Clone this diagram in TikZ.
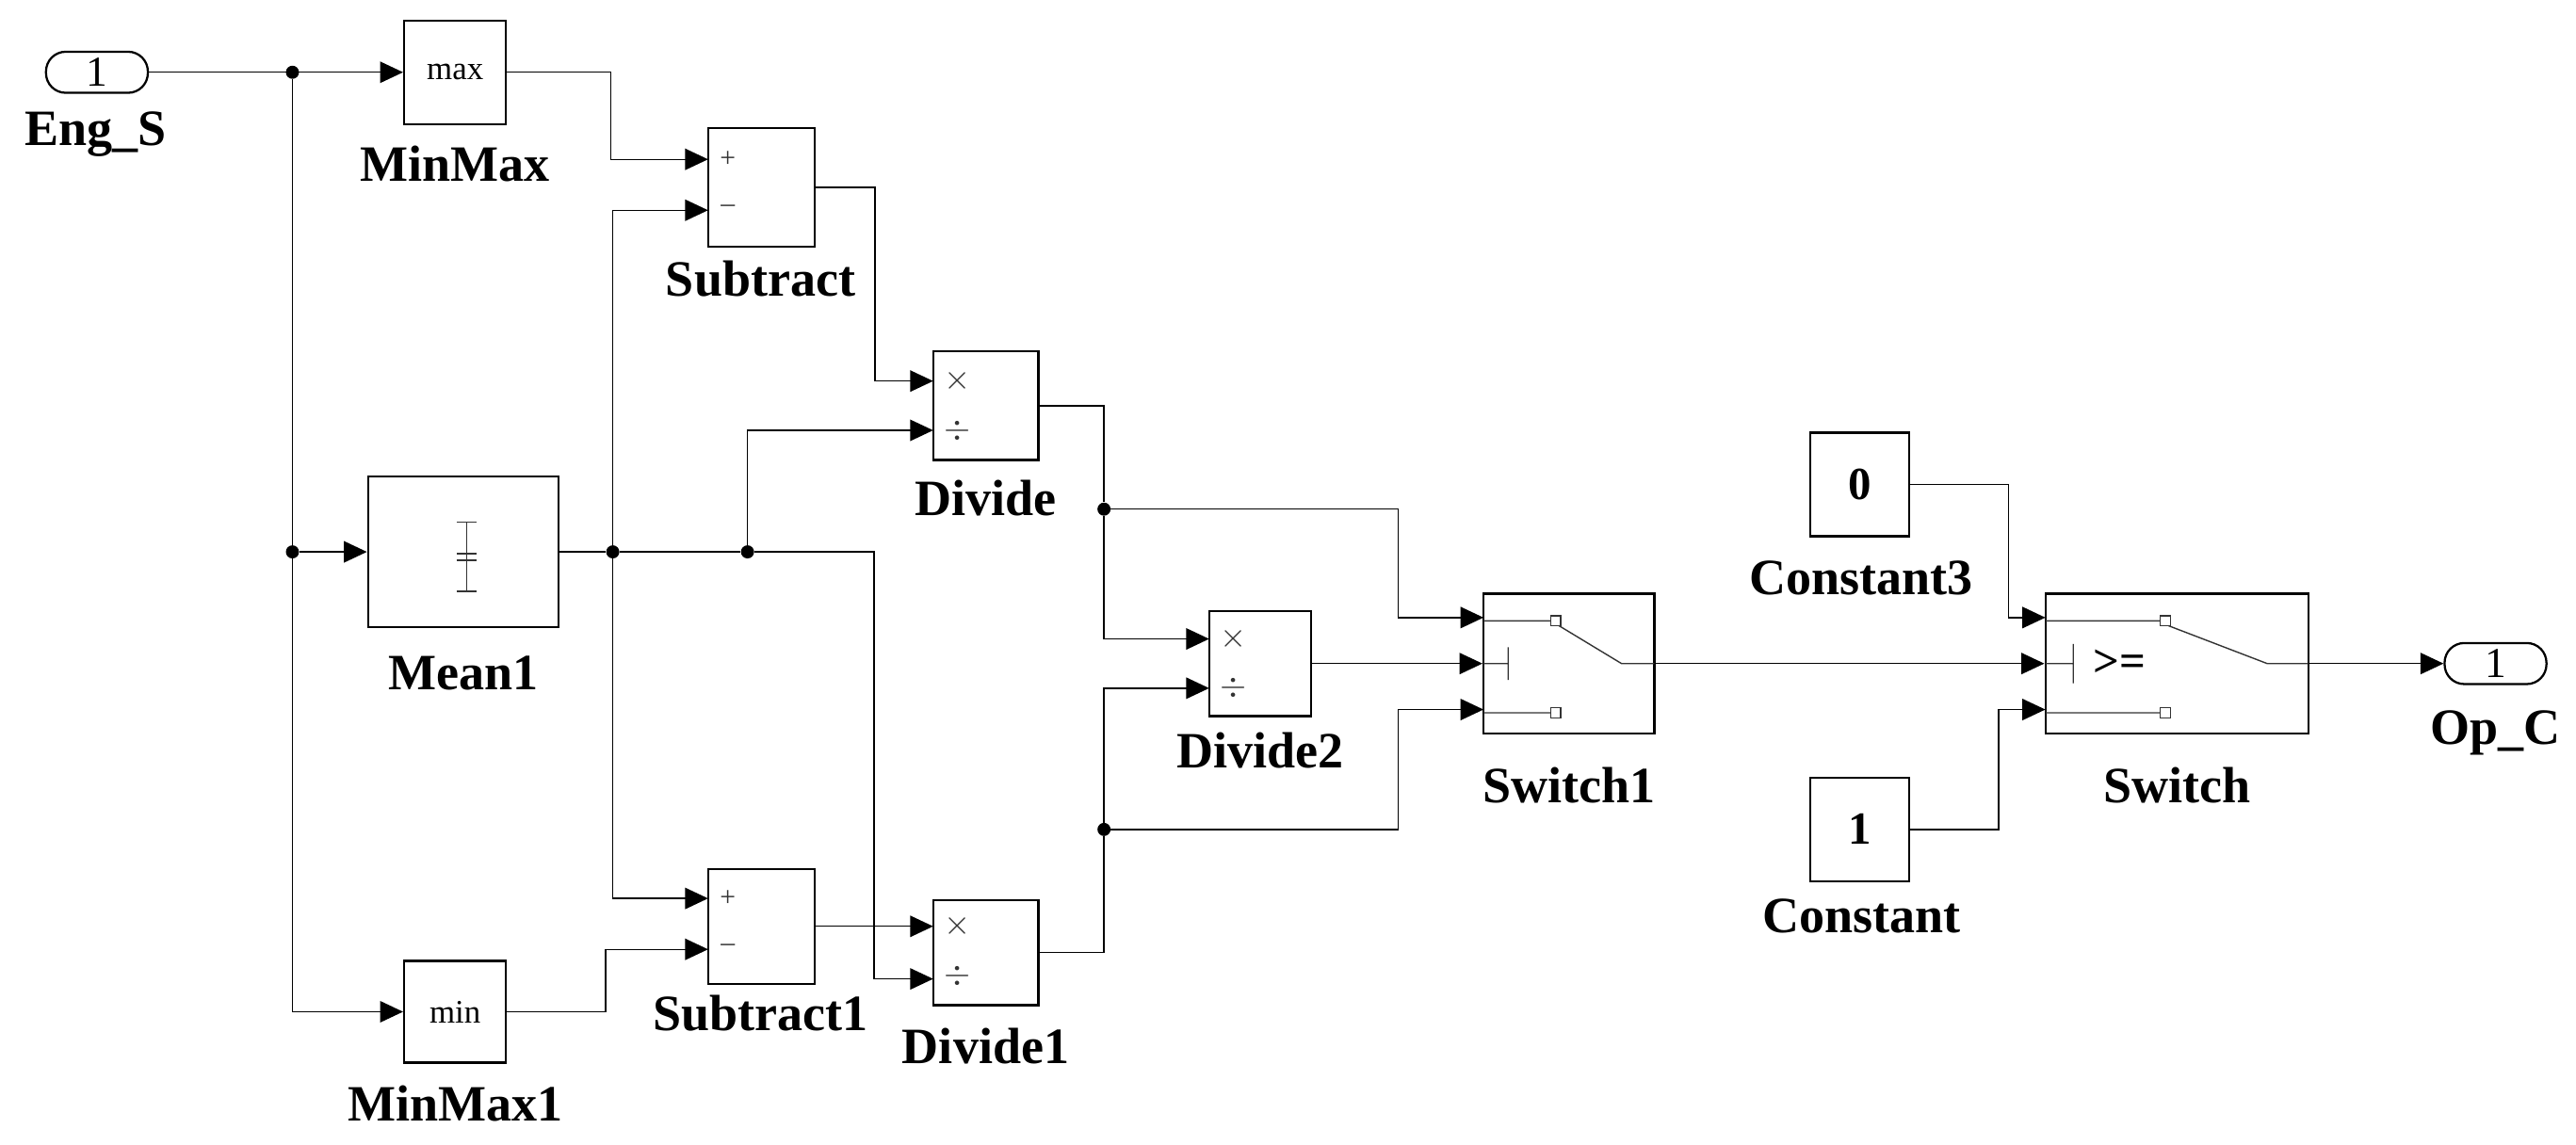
\documentclass[tikz,border=0pt]{standalone}
\usepackage{fontspec}
\setmainfont{Liberation Serif}
\usetikzlibrary{arrows.meta,calc}
\begin{document}
\begin{tikzpicture}[x=1pt,y=-1pt,
  blk/.style={draw,line width=1.3pt,inner sep=0pt,fill=white},
  pill/.style={draw,line width=1.3pt,rounded corners=12pt,minimum width=62pt,minimum height=25pt,inner sep=0pt,font=\fontsize{26}{26}\selectfont},
  lbl/.style={font=\fontsize{31}{31}\selectfont\bfseries,inner sep=0pt},
  sig/.style={line width=0.8pt},
  arr/.style={line width=0.8pt,-{Triangle[length=14pt,width=13pt]}},
  dot/.style={circle,fill=black,inner sep=0pt,minimum size=8pt},
  sgn/.style={font=\fontsize{17}{17}\selectfont,inner sep=0pt,text=black!80}]
\useasboundingbox (0,0) rectangle (1568,697);
% blocks
\node[pill] (in1) at (59,44) {1};
\node[lbl] at (58,82) {Eng\_S};
\node[blk,minimum width=62pt,minimum height=63pt,font=\fontsize{20}{20}\selectfont] (mmax) at (277,44) {max};
\node[lbl] at (277,100) {MinMax};
\node[blk,minimum width=116pt,minimum height=92pt] (mean) at (282,336) {};
\node[lbl] at (282,410) {Mean1};
\node[blk,minimum width=62pt,minimum height=62pt,font=\fontsize{20}{20}\selectfont] (mmin) at (277,616) {min};
\node[lbl] at (277,672) {MinMax1};
\node[blk,minimum width=65pt,minimum height=72pt] (subA) at (463.5,114) {};
\node[lbl] at (463,170) {Subtract};
\node[blk,minimum width=65pt,minimum height=70pt] (subB) at (463.5,564) {};
\node[lbl] at (463,617) {Subtract1};
\node[blk,minimum width=64pt,minimum height=66pt] (divA) at (600,247) {};
\node[lbl] at (600,303) {Divide};
\node[blk,minimum width=64pt,minimum height=64pt] (divB) at (600,580) {};
\node[lbl] at (600,637) {Divide1};
\node[blk,minimum width=62pt,minimum height=64pt] (divC) at (767,404) {};
\node[lbl] at (767,457) {Divide2};
\node[blk,minimum width=104pt,minimum height=85pt] (sw1) at (955,404) {};
\node[lbl] at (955,478) {Switch1};
\node[blk,minimum width=60pt,minimum height=63pt,font=\fontsize{28}{28}\selectfont\bfseries] (c3) at (1132,295) {0};
\node[lbl] at (1133,352) {Constant3};
\node[blk,minimum width=60pt,minimum height=63pt,font=\fontsize{28}{28}\selectfont\bfseries] (c1) at (1132,505) {1};
\node[lbl] at (1133,558) {Constant};
\node[blk,minimum width=160pt,minimum height=85pt] (sw) at (1325,404) {};
\node[lbl] at (1325,478) {Switch};
\node[pill] (out1) at (1519,404) {1};
\node[lbl] at (1519,446) {Op\_C};
% ports
\coordinate (subA1) at (431,97); \coordinate (subA2) at (431,128);
\coordinate (subB1) at (431,547); \coordinate (subB2) at (431,578);
\coordinate (divA1) at (568,232); \coordinate (divA2) at (568,262);
\coordinate (divB1) at (568,564); \coordinate (divB2) at (568,596);
\coordinate (divC1) at (736,389); \coordinate (divC2) at (736,419);
\coordinate (sw1a) at (903,376); \coordinate (sw1c) at (903,432);
\coordinate (swa) at (1245,376); \coordinate (swc) at (1245,432);
% junctions
\node[dot] (j1) at (178,44) {};
\node[dot] (j2) at (178,336) {};
\node[dot] (jm1) at (373,336) {};
\node[dot] (jm2) at (455,336) {};
\node[dot] (jd1) at (672,310) {};
\node[dot] (jd2) at (672,505) {};
% connectors
\draw[arr] (in1.east) -- (mmax.west);
\draw[sig] (j1) -- (j2);
\draw[arr] (j2) -- (mean.west);
\draw[arr] (j2) |- (mmin.west);
\draw[arr] (mmax.east) -- ++(63,0) |- (subA1);
\draw[arr] (mmin.east) -- ++(60,0) |- (subB2);
\draw[sig] (mean.east) -- (jm1) -- (jm2);
\draw[arr] (jm2) -- (532,336) |- (divB2);
\draw[arr] (jm1) |- (subA2);
\draw[arr] (jm1) |- (subB1);
\draw[arr] (jm2) |- (divA2);
\draw[arr] (subA.east) -- ++(36,0) |- (divA1);
\draw[arr] (subB.east) -- (divB1);
\draw[arr] (divA.east) -| (jd1) |- (divC1);
\draw[arr] (divB.east) -| (jd2) |- (divC2);
\draw[arr] (jd1) -- (851,310) |- (sw1a);
\draw[arr] (jd2) -- (851,505) |- (sw1c);
\draw[arr] (divC.east) -- (sw1.west);
\draw[arr] (sw1.east) -- (sw.west);
\draw[arr] (c3.east) -- ++(60,0) |- (swa);
\draw[arr] (c1.east) -- ++(54,0) |- (swc);
\draw[arr] (sw.east) -- (out1.west);
% icons
\node[sgn] at (443,97) {+};
\node[sgn] at (443,127) {--};
\node[sgn] at (443,547) {+};
\node[sgn] at (443,577) {--};
\foreach \x/\y in {583/232,583/564,751/389}{
  \node[sgn,font=\fontsize{22}{22}\selectfont] at (\x,\y) {$\times$};
  \node[sgn,font=\fontsize{22}{22}\selectfont] at (\x,\y+30) {$\div$};
}
\draw[line width=0.8pt,black!80] (284,318) -- (284,360) (278,318) -- (290,318) (278,360) -- (290,360) (278,337) -- (290,337) (278,341) -- (290,341);
% switch1 icon
\draw[line width=0.8pt,black!80] (903,378) -- (944,378) (903,434) -- (944,434) (903,404) -- (918,404) (918,394) -- (918,414)
  (949,381) -- (987,404) -- (1007,404);
\draw[line width=0.8pt,black!80,fill=white] (944,375) rectangle (950,381) (944,431) rectangle (950,437);
% switch icon
\draw[line width=0.8pt,black!80] (1245,378) -- (1315,378) (1245,434) -- (1315,434) (1245,404) -- (1262,404) (1262,392) -- (1262,416)
  (1320,381) -- (1380,404) -- (1405,404);
\draw[line width=0.8pt,black!80,fill=white] (1315,375) rectangle (1321,381) (1315,431) rectangle (1321,437);
\node[inner sep=0pt,font=\fontsize{28}{28}\selectfont\bfseries] at (1290,404) {>=};
\end{tikzpicture}
\end{document}
